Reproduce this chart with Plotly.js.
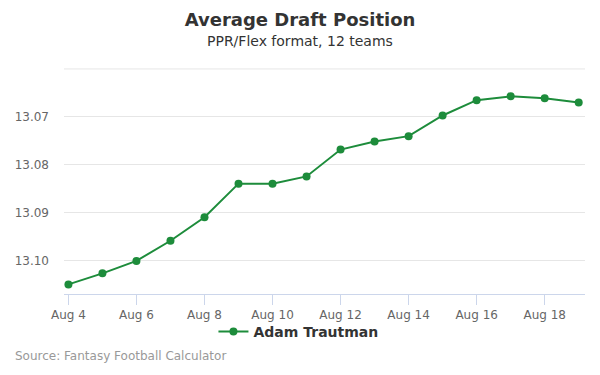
<!DOCTYPE html>
<html>
<head>
<meta charset="utf-8">
<script src="https://cdn.plot.ly/plotly-3.0.1.min.js"></script>
<style>
  html, body { margin: 0; padding: 0; background: #fff; }
  #chart { width: 600px; height: 375px; }
</style>
</head>
<body>
<div id="chart"></div>
<script>
const dates = ['2021-08-04','2021-08-05','2021-08-06','2021-08-07','2021-08-08','2021-08-09','2021-08-10','2021-08-11','2021-08-12','2021-08-13','2021-08-14','2021-08-15','2021-08-16','2021-08-17','2021-08-18','2021-08-19'];
const adp = [13.1049, 13.1026, 13.1000, 13.0958, 13.0909, 13.0839, 13.0839, 13.0824, 13.0768, 13.0751, 13.0740, 13.0697, 13.0665, 13.0657, 13.0661, 13.0670];
const seriesName = 'Adam Trautman';
const yTicks = [13.07, 13.08, 13.09, 13.10];
const yTickText = ['13.07', '13.08', '13.09', '13.10'];
const topGrid = 13.06;

const font = 'DejaVu Sans, sans-serif';
const green = '#1d8c3b';

const trace = {
  x: dates, y: adp, name: seriesName, type: 'scatter', mode: 'lines+markers',
  line: { color: green, width: 2 },
  marker: { color: green, size: 8 },
  hoverinfo: 'skip'
};

const layout = {
  width: 600, height: 375,
  margin: { l: 64, r: 15, t: 68, b: 81, autoexpand: false },
  paper_bgcolor: '#fff', plot_bgcolor: '#fff',
  font: { family: font, color: '#333' },
  title: {
    text: '<b>Average Draft Position</b>',
    font: { family: font, size: 18, color: '#333' },
    x: 0.5, xref: 'container', xanchor: 'center',
    y: 1 - 20 / 375, yref: 'container', yanchor: 'middle'
  },
  annotations: [
    { text: 'PPR/Flex format, 12 teams', xref: 'paper', yref: 'paper', x: 0.5, y: 1,
      xanchor: 'center', yanchor: 'middle', xshift: -24.5, yshift: 27, showarrow: false,
      font: { family: font, size: 14, color: '#333' } },
    { text: 'Source: Fantasy Football Calculator', xref: 'paper', yref: 'paper', x: 0, y: 0,
      xanchor: 'left', yanchor: 'middle', xshift: -51, yshift: -62, showarrow: false,
      font: { family: font, size: 12, color: '#999' } }
  ],
  shapes: [
    { type: 'line', layer: 'below', xref: 'paper', yref: 'y', x0: 0, x1: 1, y0: topGrid, y1: topGrid,
      line: { color: '#e6e6e6', width: 1 } }
  ],
  xaxis: {
    type: 'date',
    range: ['2021-08-03 20:53', '2021-08-19 04:27'],
    tick0: '2021-08-04', dtick: 2 * 86400000,
    tickformat: '%b %-d', tickangle: 0,
    showgrid: false, zeroline: false,
    showline: true, linecolor: '#ccd6eb', linewidth: 1,
    ticks: 'outside', ticklen: 10, tickcolor: '#ccd6eb', tickwidth: 1,
    tickfont: { family: font, size: 12, color: '#666' }
  },
  yaxis: {
    range: [13.1069, 13.0598],
    tickvals: yTicks, ticktext: yTickText,
    showgrid: true, gridcolor: '#e6e6e6', gridwidth: 1,
    zeroline: false, showline: false, ticks: '',
    ticklabelstandoff: 14,
    tickfont: { family: font, size: 12, color: '#666' }
  },
  showlegend: true,
  legend: {
    orientation: 'h', x: 0.450, xanchor: 'center', y: -0.168, yanchor: 'middle',
    font: { family: font, size: 14, color: '#333', weight: 'bold' },
    bgcolor: 'rgba(0,0,0,0)'
  }
};

Plotly.newPlot('chart', [trace], layout, { displayModeBar: false, staticPlot: true });
</script>
</body>
</html>
